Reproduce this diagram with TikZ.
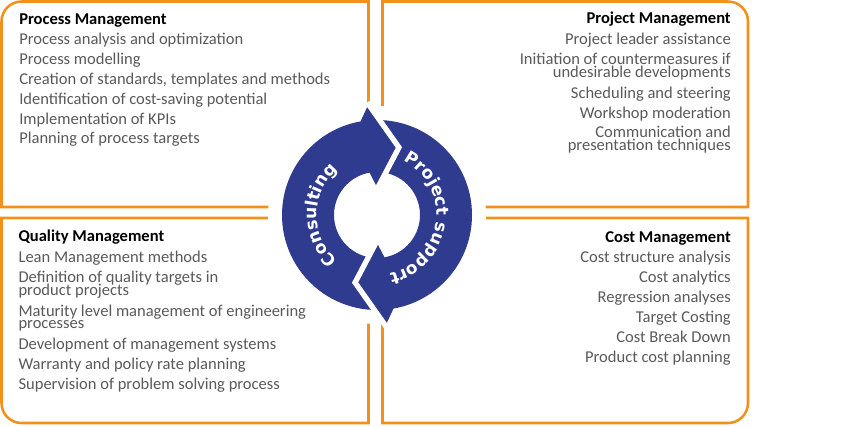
\documentclass[tikz,border=0pt]{standalone}
\usepackage{fontspec}
\setmainfont{Carlito}
\newfontfamily\ringfont{DejaVu Sans}
\usepackage{tikz}
\usetikzlibrary{decorations.text}

\begin{document}
\begin{tikzpicture}[x=0.75pt, y=0.75pt,
  head/.style={font=\fontsize{12.4}{15}\selectfont\bfseries, text=black, inner sep=0pt},
  item/.style={font=\fontsize{12.4}{15}\selectfont, text=txtGray, inner sep=0pt},
  frame/.style={draw=frameOrange, line width=1.9pt},
  ringtext/.style={decorate, decoration={text along path, text align=center, text color=white,
    text={|\ringfont\bfseries\fontsize{12.8}{15}\selectfont|#1}}}]

% Colori
\definecolor{frameOrange}{HTML}{F39019}
\definecolor{ringBlue}{HTML}{2F3B8F}
\definecolor{txtGray}{HTML}{595959}

% Raggi dell'anello
\def\rout{95}
\def\rin{43}

\useasboundingbox (0,0) rectangle (866,426);

% Riquadri
\draw[frame] (368.5,219) -- (1.5,219) -- (1.5,404.5) arc[start angle=180,end angle=90,radius=20] -- (368.5,424.5) -- cycle;
\draw[frame] (382.5,219) -- (748,219) -- (748,404.5) arc[start angle=0,end angle=90,radius=20] -- (382.5,424.5) -- cycle;
\draw[frame] (368.5,208) -- (1.5,208) -- (1.5,23) arc[start angle=180,end angle=270,radius=20] -- (368.5,3) -- cycle;
\draw[frame] (382.5,208) -- (748,208) -- (748,23) arc[start angle=0,end angle=-90,radius=20] -- (382.5,3) -- cycle;

% Anello con le due frecce
\begin{scope}[shift={(377,211)}]
\fill[white] (0,0) circle (109);
\fill[ringBlue, even odd rule] (0,0) circle (\rout) (0,0) circle (\rin);
% punte
\fill[ringBlue] (100:\rout) -- (95:109) -- (72:71) -- (91:29) -- (100:\rin) -- cycle;
\fill[ringBlue, rotate=180] (100:\rout) -- (95:109) -- (72:71) -- (91:29) -- (100:\rin) -- cycle;
% tagli
\draw[white, line width=4pt] (95:113) -- (72:71) -- (91:25);
\draw[white, line width=4pt, rotate=180] (95:113) -- (72:71) -- (91:25);
% testi
\path[ringtext=Consulting] (240:60) arc[start angle=240, end angle=120, radius=60];
\path[ringtext=Project support] (76:60) arc[start angle=76, end angle=-90, radius=60];
\end{scope}

% Process Management (alto sinistra)
\node[head, anchor=base west] (proc) at (19,402) {Process Management};
\node[item, anchor=base west] (proc1) at (19,381.7) {Process analysis and optimization};
\node[item, anchor=base west] (proc2) at (19,361.7) {Process modelling};
\node[item, anchor=base west] (proc3) at (19,341.7) {Creation of standards, templates and methods};
\node[item, anchor=base west] (proc4) at (19,321.7) {Identification of cost-saving potential};
\node[item, anchor=base west] (proc5) at (19,302) {Implementation of KPIs};
\node[item, anchor=base west] (proc6) at (19,282.3) {Planning of process targets};

% Project Management (alto destra)
\node[head, anchor=base east] (proj) at (731,402.7) {Project Management};
\node[item, anchor=base east] (proj1) at (731,381.7) {Project leader assistance};
\node[item, anchor=base east] (proj2) at (731,361.7) {Initiation of countermeasures if};
\node[item, anchor=base east] (proj3) at (731,348.7) {undesirable developments};
\node[item, anchor=base east] (proj4) at (731,328) {Scheduling and steering};
\node[item, anchor=base east] (proj5) at (731,308) {Workshop moderation};
\node[item, anchor=base east] (proj6) at (731,288.3) {Communication and};
\node[item, anchor=base east] (proj7) at (731,276) {presentation techniques};

% Quality Management (basso sinistra)
\node[head, anchor=base west] (qual) at (18.3,184.5) {Quality Management};
\node[item, anchor=base west] (qual1) at (18.3,164) {Lean Management methods};
\node[item, anchor=base west] (qual2) at (18.3,144) {Definition of quality targets in};
\node[item, anchor=base west] (qual3) at (18.3,131) {product projects};
\node[item, anchor=base west] (qual4) at (18.3,110) {Maturity level management of engineering};
\node[item, anchor=base west] (qual5) at (18.3,97.5) {processes};
\node[item, anchor=base west] (qual6) at (18.3,76.7) {Development of management systems};
\node[item, anchor=base west] (qual7) at (18.3,56.7) {Warranty and policy rate planning};
\node[item, anchor=base west] (qual8) at (18.3,36.7) {Supervision of problem solving process};

% Cost Management (basso destra)
\node[head, anchor=base east] (cost) at (731,183.7) {Cost Management};
\node[item, anchor=base east] (cost1) at (731,163.3) {Cost structure analysis};
\node[item, anchor=base east] (cost2) at (731,143.3) {Cost analytics};
\node[item, anchor=base east] (cost3) at (731,123.3) {Regression analyses};
\node[item, anchor=base east] (cost4) at (731,103.3) {Target Costing};
\node[item, anchor=base east] (cost5) at (731,83.3) {Cost Break Down};
\node[item, anchor=base east] (cost6) at (731,63.3) {Product cost planning};

\end{tikzpicture}
\end{document}
